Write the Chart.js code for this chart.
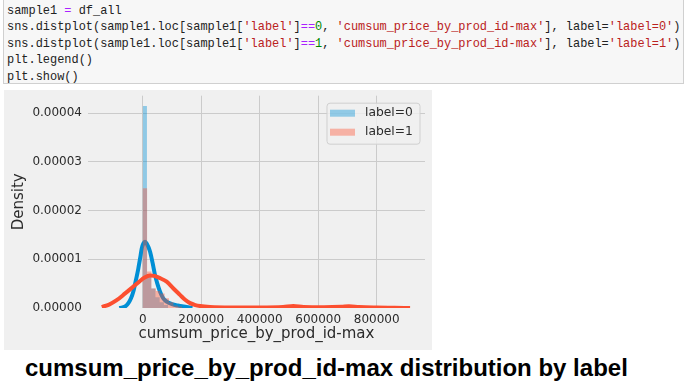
<!DOCTYPE html>
<html>
<head>
<meta charset="utf-8">
<script src="https://cdn.jsdelivr.net/npm/chart.js@4.4.0/dist/chart.umd.min.js"></script>
<style>
    body { margin: 0; width: 685px; height: 384px; background: #fff; position: relative; overflow: hidden; }
    #code { position: absolute; left: 3px; top: -1px; width: 681px; height: 85px; background: #f7f7f7; border: 1px solid #d0d0d0; box-sizing: border-box; }
    #code pre { margin: 0; padding: 3px 0 0 3px; font-family: "Liberation Mono", monospace; font-size: 11.95px; line-height: 16.4px; color: #222; white-space: pre; }
    .op { color: #aa22ff; }
    .str { color: #ba2121; }
    .num { color: #008800; }
    #plotBox { position: absolute; left: 4px; top: 90px; width: 428px; height: 260px; background: #f0f0f0; }
    #chart { display: block; }
    #caption { position: absolute; left: 25px; top: 356px; font: bold 24px "Liberation Sans", Arial, sans-serif; line-height: 24px; color: #000; white-space: nowrap; }
</style>
</head>
<body>
<div id="code"><pre>sample1 <span class="op">=</span> df_all
sns.distplot(sample1.loc[sample1[<span class="str">'label'</span>]<span class="op">==</span><span class="num">0</span>, <span class="str">'cumsum_price_by_prod_id-max'</span>], label=<span class="str">'label=0'</span>)
sns.distplot(sample1.loc[sample1[<span class="str">'label'</span>]<span class="op">==</span><span class="num">1</span>, <span class="str">'cumsum_price_by_prod_id-max'</span>], label=<span class="str">'label=1'</span>)
plt.legend()
plt.show()</pre></div>
<div id="plotBox"><canvas id="chart" width="428" height="260"></canvas></div>
<div id="caption">cumsum_price_by_prod_id-max distribution by label</div>

<script>
// Histogram bins (density) for label=0
const blueBinStart = 0;
const blueBinWidth = 14500;
const blueHist = [4.15e-5, 0.70e-5, 0.40e-5, 0.22e-5, 0.12e-5, 0.06e-5];

// Histogram bins (density) for label=1
const redBinStart = 0;
const redBinWidth = 15000;
const redHist = [2.46e-5, 0.75e-5, 0.40e-5, 0.35e-5, 0.30e-5, 0.20e-5, 0.12e-5, 0.05e-5, 0.03e-5];

// KDE curve for label=0
const blueKdeX = [-80000, -60000, -49000, -40000, -32000, -24000, -15000, -8000, -3400, 2000, 7900, 14000,
    25000, 34000, 42000, 50000, 59000, 70000, 82000, 100000, 120000, 150000, 170000];
const blueKdeY = [0, 0.03e-5, 0.10e-5, 0.20e-5, 0.34e-5, 0.55e-5, 0.81e-5, 1.05e-5, 1.22e-5, 1.32e-5, 1.36e-5, 1.32e-5,
    1.16e-5, 0.92e-5, 0.68e-5, 0.50e-5, 0.34e-5, 0.20e-5, 0.13e-5, 0.08e-5, 0.05e-5, 0.02e-5, 0];

// KDE curve for label=1
const redKdeX = [-140000, -115000, -89000, -60000, -32000, -10000, 5000, 25000, 40000, 60000, 82000, 105000,
    127500, 145000, 162000, 180000, 196000, 230000, 300000, 400000, 480000, 515000, 550000, 620000,
    680000, 705000, 740000, 800000, 860000, 914000];
const redKdeY = [0.02e-5, 0.07e-5, 0.16e-5, 0.30e-5, 0.44e-5, 0.55e-5, 0.62e-5, 0.67e-5, 0.66e-5, 0.61e-5, 0.54e-5, 0.40e-5,
    0.27e-5, 0.17e-5, 0.10e-5, 0.06e-5, 0.04e-5, 0.02e-5, 0.01e-5, 0.01e-5, 0.02e-5, 0.04e-5, 0.02e-5, 0.015e-5,
    0.025e-5, 0.035e-5, 0.02e-5, 0.01e-5, 0.005e-5, 0];

// Axis ticks
const xTicks = [0, 200000, 400000, 600000, 800000];
const yTicks = [0, 0.00001, 0.00002, 0.00003, 0.00004];

const textColor = '#2b2b2b';
const gridColor = '#cbcbcb';

// Outline of a histogram as corner points
function histPoints(start, width, heights) {
    const pts = [{x: start, y: 0}];
    heights.forEach((h, i) => {
        pts.push({x: start + i * width, y: h});
        pts.push({x: start + (i + 1) * width, y: h});
    });
    pts.push({x: start + heights.length * width, y: 0});
    return pts;
}

function curvePoints(xs, ys) {
    return xs.map((x, i) => ({x: x, y: ys[i]}));
}

// Fixed axis sizes, no extra padding for the edge labels
function fixScale(scale, size) {
    if (scale.isHorizontal()) {
        scale.height = size;
    } else {
        scale.width = size;
    }
    scale.paddingTop = 0;
    scale.paddingBottom = 0;
    scale.paddingLeft = 0;
    scale.paddingRight = 0;
}

// Legend in the upper right corner of the plot
const legendBox = {
    id: 'legendBox',
    afterDraw(chart) {
        const {ctx, chartArea} = chart;
        const w = 93, h = 41;
        const left = chartArea.right - w - 5;
        const top = chartArea.top + 7.5;
        ctx.save();
        ctx.beginPath();
        ctx.roundRect(left, top, w, h, 3);
        ctx.fillStyle = 'rgba(240,240,240,0.8)';
        ctx.fill();
        ctx.strokeStyle = '#cfcfcf';
        ctx.lineWidth = 1;
        ctx.stroke();

        const items = chart.data.datasets.filter(d => d.label);
        items.forEach((d, i) => {
            const cy = top + 10 + i * 19;
            ctx.fillStyle = d.backgroundColor;
            ctx.fillRect(left + 3, cy - 3.5, 25, 7);
            ctx.fillStyle = textColor;
            ctx.font = '12.3px "DejaVu Sans"';
            ctx.textBaseline = 'middle';
            ctx.fillText(d.label, left + 38, cy);
        });
        ctx.restore();
    }
};

const ctx = document.getElementById('chart').getContext('2d');

new Chart(ctx, {
    type: 'line',
    data: {
        datasets: [
            {
                label: 'label=0',
                data: histPoints(blueBinStart, blueBinWidth, blueHist),
                backgroundColor: 'rgba(0,143,213,0.4)',
                borderColor: 'transparent',
                borderWidth: 0,
                fill: 'origin',
                pointRadius: 0,
                tension: 0,
                order: 4
            },
            {
                data: curvePoints(blueKdeX, blueKdeY),
                borderColor: '#008fd5',
                borderWidth: 4,
                fill: false,
                pointRadius: 0,
                cubicInterpolationMode: 'monotone',
                clip: 0,
                order: 3
            },
            {
                label: 'label=1',
                data: histPoints(redBinStart, redBinWidth, redHist),
                backgroundColor: 'rgba(252,79,48,0.4)',
                borderColor: 'transparent',
                borderWidth: 0,
                fill: 'origin',
                pointRadius: 0,
                tension: 0,
                order: 2
            },
            {
                data: curvePoints(redKdeX, redKdeY),
                borderColor: '#fc4f30',
                borderWidth: 4,
                fill: false,
                pointRadius: 0,
                cubicInterpolationMode: 'monotone',
                clip: 0,
                order: 1
            }
        ]
    },
    options: {
        responsive: false,
        animation: false,
        devicePixelRatio: 1,
        layout: { padding: { top: 5.7, right: 7, left: 0, bottom: 0 } },
        plugins: {
            legend: { display: false },
            tooltip: { enabled: false }
        },
        scales: {
            x: {
                type: 'linear',
                min: -187000,
                max: 965000,
                afterBuildTicks: axis => { axis.ticks = xTicks.map(v => ({value: v})); },
                afterFit: scale => fixScale(scale, 42),
                border: { display: false },
                grid: { color: gridColor, lineWidth: 1, drawTicks: false },
                ticks: {
                    color: textColor,
                    padding: 5,
                    maxRotation: 0,
                    font: { family: 'DejaVu Sans', size: 12 },
                    callback: v => String(v)
                },
                title: {
                    display: true,
                    text: 'cumsum_price_by_prod_id-max',
                    color: textColor,
                    font: { family: 'DejaVu Sans', size: 15 },
                    padding: { top: 0, bottom: 7 }
                }
            },
            y: {
                min: 0,
                max: 4.36e-5,
                afterBuildTicks: axis => { axis.ticks = yTicks.map(v => ({value: v})); },
                afterFit: scale => fixScale(scale, 84),
                border: { display: false },
                grid: {
                    color: c => (c.tick && c.tick.value === 0) ? 'rgba(0,0,0,0)' : gridColor,
                    lineWidth: 1,
                    drawTicks: false
                },
                ticks: {
                    color: textColor,
                    padding: 6,
                    font: { family: 'DejaVu Sans', size: 12 },
                    callback: v => v.toFixed(5)
                },
                title: {
                    display: true,
                    text: 'Density',
                    color: textColor,
                    font: { family: 'DejaVu Sans', size: 15 },
                    padding: { top: 6, bottom: 0 }
                }
            }
        }
    },
    plugins: [legendBox]
});
</script>
</body>
</html>
